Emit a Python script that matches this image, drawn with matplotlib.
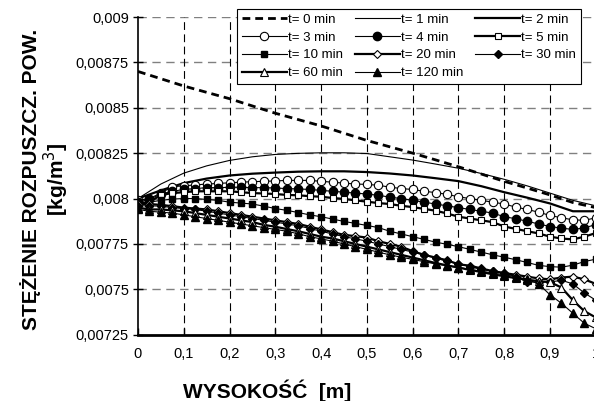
import numpy as np
import matplotlib
matplotlib.use("Agg")
import matplotlib.pyplot as plt

plt.rcParams['font.family'] = ['Liberation Sans', 'DejaVu Sans']

# heights [m]
x_pts = np.linspace(0, 1, 41)    # marker series, step 0.025
x_line = np.linspace(0, 1, 21)   # plain lines, step 0.05

# plain lines (21 points)
t0 = [0.0087, 0.00866, 0.00862, 0.008585, 0.00855, 0.00851, 0.00847, 0.008435, 0.0084, 0.00836,
      0.00832, 0.008285, 0.00825, 0.008213, 0.008175, 0.008135, 0.008095, 0.008058, 0.00802, 0.007978, 0.00795]
t1 = [0.008, 0.00808, 0.00814, 0.00818, 0.00821, 0.00823, 0.008243, 0.008249, 0.008252, 0.008252,
      0.008248, 0.00823, 0.008212, 0.00819, 0.008167, 0.008138, 0.008106, 0.00807, 0.00803, 0.00799, 0.00796]
t2 = [0.008, 0.008045, 0.008085, 0.00811, 0.008127, 0.008137, 0.008143, 0.008148, 0.00815, 0.00815,
      0.008146, 0.008138, 0.008127, 0.008112, 0.008096, 0.008068, 0.008035, 0.008005, 0.007973, 0.00793, 0.00793]

# marker series (41 points)
t3 = [0.00799, 0.008, 0.00803, 0.008065, 0.00807, 0.008075, 0.00808, 0.008083, 0.008087, 0.00809,
      0.008093, 0.008095, 0.008097, 0.0081, 0.0081, 0.0081, 0.008095, 0.00809, 0.008085, 0.00808,
      0.008078, 0.008073, 0.008063, 0.008055, 0.00805, 0.00804, 0.008033, 0.008023, 0.00801, 0.008,
      0.00799, 0.00798, 0.00797, 0.007953, 0.00794, 0.007925, 0.007907, 0.007894, 0.007883, 0.00788, 0.007894]
t4 = [0.00798, 0.007995, 0.008025, 0.00804, 0.00805, 0.008055, 0.00806, 0.00806, 0.008062, 0.008062,
      0.00806, 0.00806, 0.008058, 0.008055, 0.008053, 0.00805, 0.008045, 0.00804, 0.008035, 0.00803,
      0.008025, 0.008018, 0.008008, 0.008, 0.00799, 0.00798, 0.00797, 0.00796, 0.00795, 0.00794,
      0.00793, 0.00792, 0.0079, 0.007889, 0.007875, 0.00786, 0.007846, 0.007837, 0.00783, 0.007838, 0.007857]
t5 = [0.00797, 0.00798, 0.00802, 0.00803, 0.008035, 0.00804, 0.00804, 0.00804, 0.00804, 0.008035,
      0.00803, 0.008028, 0.008025, 0.00802, 0.008018, 0.008013, 0.00801, 0.008003, 0.007998, 0.00799,
      0.007983, 0.007975, 0.00797, 0.00796, 0.007953, 0.007943, 0.007933, 0.007918, 0.0079, 0.00789,
      0.00788, 0.00787, 0.007846, 0.007833, 0.00782, 0.007808, 0.00779, 0.00778, 0.007775, 0.00779, 0.00781]
t10 = [0.00798, 0.00798, 0.00799, 0.007997, 0.008, 0.008, 0.007995, 0.00799, 0.00798, 0.007975,
       0.00797, 0.007958, 0.007945, 0.007935, 0.007923, 0.00791, 0.0079, 0.007887, 0.007874, 0.007863,
       0.007852, 0.00784, 0.00782, 0.007805, 0.00779, 0.007775, 0.00776, 0.007748, 0.007735, 0.00772,
       0.007705, 0.00769, 0.007677, 0.007663, 0.007648, 0.007632, 0.007625, 0.007622, 0.007633, 0.007653, 0.007666]
t20 = [0.00797, 0.00797, 0.007965, 0.007958, 0.00795, 0.007945, 0.00794, 0.00793, 0.00792, 0.00791,
       0.0079, 0.00789, 0.00788, 0.00787, 0.00786, 0.007845, 0.00783, 0.007815, 0.0078, 0.007793,
       0.007785, 0.007765, 0.00775, 0.007735, 0.00771, 0.00769, 0.007675, 0.00766, 0.007638, 0.00763,
       0.007615, 0.0076, 0.00759, 0.00758, 0.00757, 0.00756, 0.007555, 0.007565, 0.00757, 0.007555, 0.00753]
t30 = [0.00796, 0.00796, 0.007958, 0.00795, 0.007945, 0.00794, 0.00793, 0.00792, 0.00791, 0.0079,
       0.00789, 0.00788, 0.00787, 0.00786, 0.00785, 0.007835, 0.00782, 0.007805, 0.00779, 0.007778,
       0.007765, 0.00775, 0.007735, 0.00772, 0.007705, 0.00769, 0.007672, 0.007655, 0.00764, 0.007625,
       0.00761, 0.0076, 0.00759, 0.00757, 0.00754, 0.00754, 0.00754, 0.00755, 0.00753, 0.00748, 0.00744]
t60 = [0.00795, 0.00794, 0.00794, 0.007935, 0.00793, 0.00792, 0.00791, 0.0079, 0.00789, 0.00788,
       0.00787, 0.007855, 0.007845, 0.007832, 0.00782, 0.007805, 0.00779, 0.00778, 0.007765, 0.00775,
       0.007735, 0.00772, 0.007705, 0.00769, 0.007675, 0.00766, 0.007645, 0.007632, 0.00762, 0.007607,
       0.007595, 0.007583, 0.007572, 0.007562, 0.007553, 0.007545, 0.00754, 0.00751, 0.00744, 0.00738, 0.007345]
t120 = [0.00794, 0.00793, 0.007925, 0.00792, 0.00791, 0.0079, 0.00789, 0.00788, 0.00787, 0.00786,
        0.00785, 0.00784, 0.00783, 0.00782, 0.007806, 0.00779, 0.007778, 0.007765, 0.00775, 0.007735,
        0.00772, 0.007705, 0.00769, 0.007677, 0.007665, 0.007652, 0.00764, 0.00763, 0.00762, 0.00761,
        0.0076, 0.00759, 0.00758, 0.00757, 0.007555, 0.00753, 0.00747, 0.007423, 0.007368, 0.007313, 0.007283]

y_ticks = [0.00725, 0.0075, 0.00775, 0.008, 0.00825, 0.0085, 0.00875, 0.009]
y_labels = ['0,00725', '0,0075', '0,00775', '0,008', '0,00825', '0,0085', '0,00875', '0,009']
x_ticks = [0, 0.1, 0.2, 0.3, 0.4, 0.5, 0.6, 0.7, 0.8, 0.9, 1.0]
x_labels = ['0', '0,1', '0,2', '0,3', '0,4', '0,5', '0,6', '0,7', '0,8', '0,9', '1']

fig = plt.figure(figsize=(5.94, 4.01), dpi=100)
ax = fig.add_axes([0.2323, 0.1653, 0.7707, 0.7923])

thick = 1.6
thin = 0.8
h = {}
h[0], = ax.plot(x_line, t0, color='black', lw=2.0, dashes=(2.8, 1.8), label='t= 0 min')
h[1], = ax.plot(x_line, t1, color='black', lw=thin, label='t= 1 min')
h[2], = ax.plot(x_line, t2, color='black', lw=thick, label='t= 2 min')
h[3], = ax.plot(x_pts, t3, color='black', lw=thin, marker='o', ms=6, mfc='white', mec='black', mew=0.8, label='t= 3 min')
h[4], = ax.plot(x_pts, t4, color='black', lw=thin, marker='o', ms=6, mfc='black', mec='black', label='t= 4 min')
h[5], = ax.plot(x_pts, t5, color='black', lw=thick, marker='s', ms=4.5, mfc='white', mec='black', mew=0.8, label='t= 5 min')
h[10], = ax.plot(x_pts, t10, color='black', lw=thin, marker='s', ms=5, mfc='black', mec='black', label='t= 10 min')
h[20], = ax.plot(x_pts, t20, color='black', lw=thick, marker='D', ms=4, mfc='white', mec='black', mew=0.8, label='t= 20 min')
h[30], = ax.plot(x_pts, t30, color='black', lw=thin, marker='D', ms=4, mfc='black', mec='black', label='t= 30 min')
h[60], = ax.plot(x_pts, t60, color='black', lw=thick, marker='^', ms=5.5, mfc='white', mec='black', mew=0.8, label='t= 60 min')
h[120], = ax.plot(x_pts, t120, color='black', lw=thin, marker='^', ms=5.5, mfc='black', mec='black', label='t= 120 min')

ax.set_xlim(0, 1)
ax.set_ylim(0.00725, 0.009)
ax.set_xticks(x_ticks)
ax.set_xticklabels(x_labels, fontsize=10.5)
ax.set_yticks(y_ticks)
ax.set_yticklabels(y_labels, fontsize=10.5)
ax.tick_params(axis='y', direction='inout', length=7, width=1, pad=3)
ax.tick_params(axis='x', direction='in', length=5, width=1, pad=9)

for y in y_ticks[1:]:
    ax.axhline(y, color='#808080', lw=1.0, dashes=(6, 4), zorder=0)
for x in x_ticks[1:]:
    ax.axvline(x, color='black', lw=0.8, dashes=(7, 4), zorder=0)

ax.spines['top'].set_visible(False)
ax.spines['right'].set_visible(False)
ax.spines['left'].set_linewidth(1.2)
ax.spines['bottom'].set_linewidth(2.0)

ax.set_ylabel('STĘŻENIE ROZPUSZCZ. POW.\n[kg/m$^3$]', fontsize=15, fontweight='bold', linespacing=1.0)
ax.yaxis.set_label_coords(-0.147, 0.49)
ax.set_xlabel('WYSOKOŚĆ  [m]', fontsize=15, fontweight='bold')
ax.xaxis.set_label_coords(0.282, -0.14)

order = [0, 3, 10, 60, 1, 4, 20, 120, 2, 5, 30]
leg = fig.legend([h[k] for k in order], [h[k].get_label() for k in order],
                 loc='upper right', bbox_to_anchor=(0.978, 0.9776), borderaxespad=0, ncol=3, fontsize=9.5,
                 handlelength=3.4, handletextpad=0.1, columnspacing=0.9, labelspacing=0.42,
                 borderpad=0.35, numpoints=1, fancybox=False, framealpha=1, edgecolor='black')
leg.get_frame().set_linewidth(0.8)

fig.savefig('out.png', dpi=100)
